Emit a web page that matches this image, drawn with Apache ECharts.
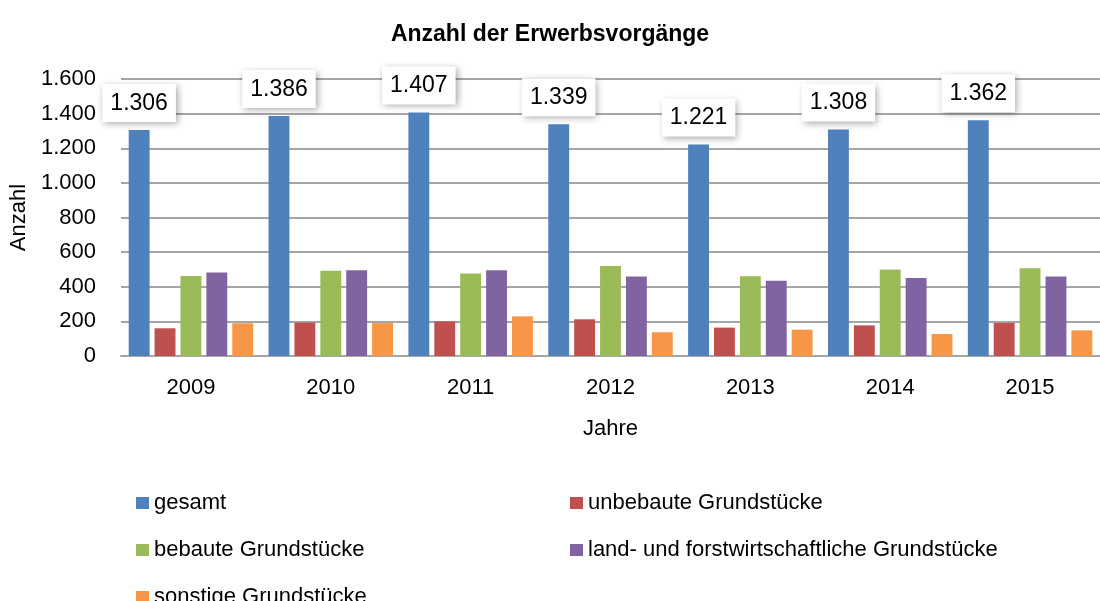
<!DOCTYPE html>
<html>
<head>
<meta charset="utf-8">
<title>Anzahl der Erwerbsvorgänge</title>
<script src="https://cdn.jsdelivr.net/npm/echarts@6/dist/echarts.min.js"></script>
<style>
  html, body { margin: 0; padding: 0; background: #fff; }
  #chart { width: 1100px; height: 601px; }
</style>
</head>
<body>
<div id="chart"></div>
<script>
// values
var jahre = ['2009', '2010', '2011', '2012', '2013', '2014', '2015'];
var gesamt = [1306, 1386, 1407, 1339, 1221, 1308, 1362];
var unbebaut = [160, 193, 200, 212, 164, 177, 191];
var bebaut = [462, 493, 476, 520, 460, 499, 507];
var landForst = [483, 495, 495, 459, 435, 451, 459];
var sonstige = [189, 190, 229, 137, 152, 127, 148];
var yTicks = [0, 200, 400, 600, 800, 1000, 1200, 1400, 1600];

var namen = ['gesamt', 'unbebaute Grundstücke', 'bebaute Grundstücke',
  'land- und forstwirtschaftliche Grundstücke', 'sonstige Grundstücke'];
var farben = ['#4f81bd', '#c0504d', '#9bbb59', '#8064a2', '#f79646'];

var font = "'Liberation Sans', Arial, sans-serif";

// German thousands separator: 1600 -> 1.600
function tausend(v) {
  return String(v).replace(/\B(?=(\d{3})+(?!\d))/g, '.');
}

var myChart = echarts.init(document.getElementById('chart'));

var reihen = [gesamt, unbebaut, bebaut, landForst, sonstige].map(function (werte, i) {
  var s = {
    name: namen[i],
    type: 'bar',
    data: werte,
    barGap: '24%',
    barCategoryGap: '11%',
    itemStyle: { color: farben[i] }
  };
  if (i === 0) {
    s.label = {
      show: true,
      position: 'top',
      distance: 8,
      formatter: function (p) { return tausend(p.value); },
      fontFamily: font,
      fontSize: 23,
      color: '#000',
      backgroundColor: '#fff',
      padding: [8, 8, 7, 8],
      shadowBlur: 7,
      shadowColor: 'rgba(0,0,0,0.35)',
      shadowOffsetX: 2,
      shadowOffsetY: 2
    };
  }
  return s;
});

function legende(links, daten) {
  return {
    orient: 'vertical',
    left: links,
    top: 487,
    height: 200,
    itemWidth: 13,
    itemHeight: 12,
    itemGap: 25,
    icon: 'rect',
    data: daten,
    textStyle: { fontFamily: font, fontSize: 22, color: '#000' }
  };
}

option = {
  animation: false,
  textStyle: { fontFamily: font },
  title: {
    text: 'Anzahl der Erwerbsvorgänge',
    left: 'center',
    top: 18,
    textStyle: { fontFamily: font, fontSize: 23, fontWeight: 'bold', color: '#000' }
  },
  legend: [
    legende(131, [namen[0], namen[2], namen[4]]),
    legende(565, [namen[1], namen[3]])
  ],
  grid: { left: 121, right: -10, top: 79, bottom: 245 },
  xAxis: {
    type: 'category',
    data: jahre,
    name: 'Jahre',
    nameLocation: 'middle',
    nameGap: 62,
    nameTextStyle: { fontFamily: font, fontSize: 22, color: '#000' },
    axisLine: { lineStyle: { color: '#a6a6a6', width: 2 } },
    axisTick: { show: false },
    axisLabel: { margin: 21, fontFamily: font, fontSize: 22, color: '#000' }
  },
  yAxis: {
    type: 'value',
    min: yTicks[0],
    max: yTicks[yTicks.length - 1],
    interval: yTicks[1] - yTicks[0],
    name: 'Anzahl',
    nameLocation: 'middle',
    nameGap: 84,
    nameTextStyle: { fontFamily: font, fontSize: 22, color: '#000' },
    axisLine: { show: false },
    axisTick: { show: false },
    splitLine: { lineStyle: { color: '#a6a6a6', width: 2 } },
    axisLabel: {
      margin: 25,
      fontFamily: font,
      fontSize: 22,
      color: '#000',
      formatter: function (v) { return tausend(v); }
    }
  },
  series: reihen
};

myChart.setOption(option);
</script>
</body>
</html>
